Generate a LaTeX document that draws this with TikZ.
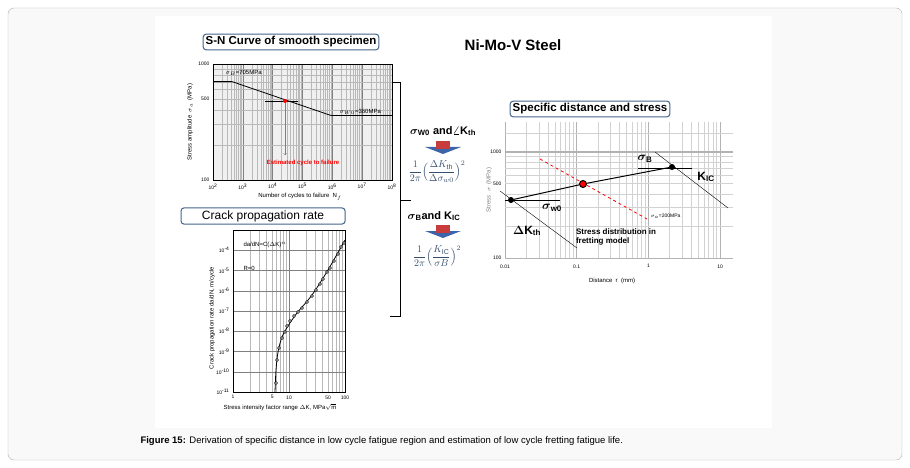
\documentclass[tikz,border=0pt]{standalone}
\usepackage{fontspec}
\usepackage{amsmath}
\setmainfont{Liberation Sans}
\usetikzlibrary{positioning}
\definecolor{boxblue}{RGB}{70,100,140}
\definecolor{arrblue}{RGB}{60,100,170}
\definecolor{arrred}{RGB}{200,60,60}
\tikzset{
  titlebox/.style={draw=boxblue, line width=1pt, rounded corners=3pt, fill=white, font=\bfseries\fontsize{11.5}{12}\selectfont, inner sep=2.5pt},
  grid line/.style={gray!55, line width=0.5pt},
  tick label/.style={font=\fontsize{5}{6}\selectfont},
  small label/.style={font=\fontsize{6}{7}\selectfont},
  dot/.style={circle, fill=black, inner sep=0pt, minimum size=6pt},
  down arr/.pic={\fill[arrblue] (-18,-1) -- (18,-1) -- (0,6) -- cycle; \fill[arrred] (-7,-7) rectangle (7,1);}
}
\begin{document}
\begin{tikzpicture}[x=1pt, y=-1pt,
  declare function={snx(\e)=213+(\e-2)*29.83; sny(\l)=180-\l*116;
                     rx(\e)=505+(\e+2)*71.7; ry(\l)=258-\l*106; cx(\l)=233+\l*56;}]
\useasboundingbox (0,0) rectangle (910,468);
\fill[white] (0,0) rectangle (910,468);
\draw[gray!60, rounded corners=6pt, fill=gray!5] (8,8) rectangle (902,460);
\fill[white] (155,16) rectangle (772,428);
% S-N curve
\fill[gray!12] (213,64) rectangle (392,180);
\foreach \e in {2,...,7} {
  \foreach \k in {2,...,9} \draw[grid line] ({snx(\e+log10(\k))},64) -- ({snx(\e+log10(\k))},180);
  \draw[gray] ({snx(\e)},64) -- ({snx(\e)},180);
}
\foreach \k in {2,...,9} \draw[grid line] (213,{sny(log10(\k))}) -- (392,{sny(log10(\k))});
\draw (213,64) rectangle (392,180);
\foreach \e in {2,...,8} \node[tick label, below] at ({snx(\e)},180) {10\textsuperscript{\e}};
\node[tick label, left] at (213,64) {1000};
\node[tick label, left] at (213,{sny(log10(5))}) {500};
\node[tick label, left] at (213,180) {100};
\node[small label, rotate=90] at (190,122) {Stress amplitude \ $\sigma_a$ \ (MPa)};
\node[small label] at (300,197) {Number of cycles to failure \ N$_f$};
\coordinate (s0) at (213,{sny(log10(7.05))});
\coordinate (s1) at (232,{sny(log10(7.05))});
\coordinate (s2) at (331,{sny(log10(3.6))});
\coordinate (s3) at (392,{sny(log10(3.6))});
\draw[line width=0.8pt] (s0) -- (s1) -- (s2) -- (s3);
\coordinate (hl) at (265,101); \coordinate (hr) at (298,101);
\draw[line width=0.8pt] (hl) -- (hr);
\node[circle, fill=red, inner sep=0pt, minimum size=4pt] (snp) at (285,101) {};
\coordinate (snd) at (285,155);
\draw[->, gray] (snp) -- (snd);
\node[font=\fontsize{6}{7}\selectfont\bfseries, text=red] at (303,163) {Estimated cycle to failure};
\node[small label, anchor=west] at (222,73) {$\sigma_B$=705MPa};
\node[small label, anchor=west] at (336,112) {$\sigma_{W0}$=360MPa};
\node[titlebox] at (291,42) {S-N Curve of smooth specimen};
\node[font=\bfseries\fontsize{15}{16}\selectfont] at (513,45) {Ni-Mo-V Steel};
% brace
\coordinate (b1) at (392,82); \coordinate (b2) at (400,82);
\coordinate (b3) at (400,200); \coordinate (b4) at (411,200);
\coordinate (b5) at (400,316); \coordinate (b6) at (390,316);
\draw[line width=0.8pt] (b1) -- (b2) -- (b5) -- (b6);
\draw[line width=0.8pt] (b3) -- (b4);
% middle texts
\node[font=\bfseries\fontsize{11}{12}\selectfont] (t1) at (443,131) {$\boldsymbol{\sigma}_{\mathbf{W0}}$ and$\boldsymbol{\angle}$K$_{\text{th}}$};
\pic at (443,148) {down arr};
\node[text=boxblue!80!black] (f1) at (437,172) {$\dfrac{1}{2\pi}\Bigl(\dfrac{\Delta K_{\mathrm{th}}}{\Delta\sigma_{w0}}\Bigr)^2$};
\node[font=\bfseries\fontsize{11}{12}\selectfont] (t2) at (434,216) {$\boldsymbol{\sigma}_{\mathbf{B}}$and K$_{\mathbf{IC}}$};
\pic at (443,232) {down arr};
\node[text=boxblue!80!black] (f2) at (437,256) {$\dfrac{1}{2\pi}\Bigl(\dfrac{K_{\mathrm{IC}}}{\sigma B}\Bigr)^2$};
% crack propagation
\foreach \l in {0,1} \foreach \k in {2,...,9} \draw[grid line] ({cx(\l+log10(\k))},230) -- ({cx(\l+log10(\k))},392);
\foreach \i in {0,...,8} \draw[gray] (233,230+\i*20.25) -- (345,230+\i*20.25);
\draw[gray] ({cx(1)},230) -- ({cx(1)},392);
\draw (233,230) rectangle (345,392);
\foreach \v/\t in {1/1,5/5,10/10,50/50,100/100} \node[tick label, below] at ({cx(log10(\v))},392) {\t};
\foreach \i/\t in {1/-4,2/-5,3/-6,4/-7,5/-8,6/-9,7/-10,8/-11} \node[tick label, left] at (233,230+\i*20.25) {10\textsuperscript{\t}};
\node[small label, rotate=90] at (212,318) {Crack propagation rate da/dN, m/cycle};
\node[small label] at (280,407) {Stress intensity factor range $\Delta$K, MPa$\sqrt{\text{m}}$};
\node[small label, anchor=west] at (240,245) {da/dN=C($\Delta$K)$^n$};
\node[small label, anchor=west] at (240,268) {R=0};
\draw[line width=0.8pt] plot[smooth] coordinates {(275,392) (276,370) (278,352) (282,337) (288,326) (297,313) (312,295) (328,270) (345,240)};
\foreach \p in {(276,383),(277,360),(279,348),(282,338),(285,332),(287,326),(290,321),(294,316),(298,312),(302,308),(307,302),(312,296),(316,290),(320,284),(323,279),(327,272),(330,268),(334,261),(338,254),(341,247),(344,243)}
  \draw[fill=white, line width=0.4pt] \p circle (1.5);
\node[titlebox, minimum width=164pt, font=\fontsize{12}{13}\selectfont] at (263,216) {Crack propagation rate};
% specific distance and stress
\begin{scope}
\clip (505,118) rectangle (733,259);
\foreach \e in {-2,-1,0,1} {
  \foreach \k in {2,...,9} \draw[grid line, line width=1pt, gray!35] ({rx(\e+log10(\k))},122) -- ({rx(\e+log10(\k))},258);
  \draw[gray!60, line width=1pt] ({rx(\e)},122) -- ({rx(\e)},258);
}
\end{scope}
\foreach \k in {2,...,9} \draw[grid line, line width=1pt, gray!35] (505,{ry(log10(\k))}) -- (733,{ry(log10(\k))});
\foreach \k in {1,1.5} \draw[grid line, line width=1pt, gray!35] (505,{ry(1+log10(\k))}) -- (733,{ry(1+log10(\k))});
\draw[gray!60, line width=1pt] (505,{ry(1)}) -- (733,{ry(1)});
\draw[gray!60, line width=1pt] (505,258) -- (733,258);
\foreach \e/\t in {-2/0.01,-1/0.1,0/1,1/10} \node[tick label, below=3pt] at ({rx(\e)},258) {\t};
\node[tick label, left] at (505,{ry(1)}) {1000};
\node[tick label, left] at (505,{ry(log10(5))}) {500};
\node[tick label, left] at (505,258) {100};
\node[small label] at (612,281) {Distance \ r \ (mm)};
\node[small label, rotate=90, gray] at (489,190) {Stress \ $\sigma$ \ (MPa)};
\coordinate (dk1) at (500,191); \coordinate (dk2) at (577,248);
\draw (dk1) -- (dk2);
\coordinate (kc1) at (655,152); \coordinate (kc2) at (728,208);
\draw (kc1) -- (kc2);
\coordinate (w1) at (505,200); \coordinate (w2) at (560,200);
\draw (w1) -- (w2);
\coordinate (sb1) at (638,168); \coordinate (sb2) at (692,168);
\draw (sb1) -- (sb2);
\coordinate (rd1) at (540,159); \coordinate (rd2) at (647,219);
\draw[red, dashed, line width=0.8pt] (rd1) -- (rd2);
\node[dot] (pw) at (511,200) {};
\node[dot] (pb) at (672,167) {};
\node[circle, fill=red, draw=black, line width=1pt, inner sep=0pt, minimum size=7pt] (pr) at (583,184) {};
\draw[line width=1pt] (pw) -- (pr) -- (pb);
\node[font=\fontsize{12}{13}\selectfont\bfseries] at (552,208) {$\boldsymbol{\sigma}_{\mathbf{w0}}$};
\node[font=\fontsize{12}{13}\selectfont\bfseries] at (527,231) {$\boldsymbol{\Delta}$K$_{\mathbf{th}}$};
\node[font=\fontsize{12}{13}\selectfont\bfseries] at (645,159) {$\boldsymbol{\sigma}_{\mathbf{B}}$};
\node[font=\fontsize{12}{13}\selectfont\bfseries] at (706,177) {K$_{\mathbf{IC}}$};
\node[tick label, anchor=west] at (647,216) {$\sigma_a$=200MPa};
\node[font=\bfseries\fontsize{8}{9.5}\selectfont, align=left] at (616,237) {Stress distribution in\\ fretting model};
\node[titlebox] at (590,109) {Specific distance and stress};
% caption
\node[anchor=west, font=\fontsize{9.5}{11}\selectfont] (cap) at (137,441) {\textbf{Figure 15:} Derivation of specific distance in low cycle fatigue region and estimation of low cycle fretting fatigue life.};
\end{tikzpicture}
\end{document}
